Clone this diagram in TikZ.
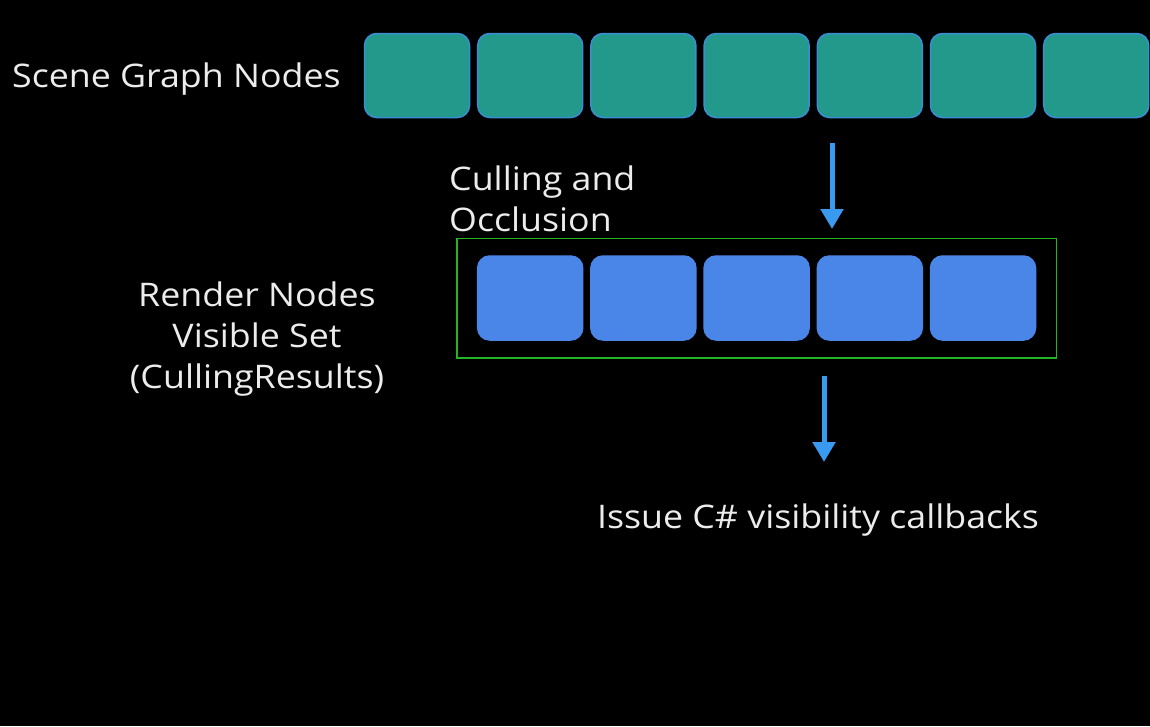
\documentclass[tikz,border=0pt]{standalone}
\usepackage{fontspec}
\setmainfont{Open Sans}
\newfontfamily\labelfont[FakeStretch=1.1]{Open Sans}
\usepackage{xcolor}
\usetikzlibrary{arrows.meta}
\usetikzlibrary{fit}

\definecolor{sceneteal}{HTML}{22998A}
\definecolor{tealedge}{HTML}{3A8ED4}
\definecolor{nodeblue}{HTML}{4A86E8}
\definecolor{arrowblue}{HTML}{3A9AF0}
\definecolor{framegreen}{HTML}{22B522}
\definecolor{labelgray}{HTML}{ECECEC}

\tikzset{
  scenebox/.style={draw=tealedge, line width=1.5pt, fill=sceneteal, rounded corners=12pt,
    minimum width=105pt, minimum height=84pt, inner sep=0pt},
  renderbox/.style={draw=nodeblue, line width=1.5pt, fill=nodeblue, rounded corners=12pt,
    minimum width=105pt, minimum height=84pt, inner sep=0pt},
  label/.style={text=labelgray, font=\labelfont\fontsize{32.5}{41}\selectfont, inner sep=0pt},
  flow/.style={arrowblue, line width=5pt, -{Triangle[width=22pt,length=20pt]}}
}

\begin{document}
\begin{tikzpicture}[x=1pt,y=-1pt]
\fill[black] (0,0) rectangle (1150,726);
\useasboundingbox (0,0) rectangle (1150,726);

% scene graph nodes
\foreach \i in {1,...,7}
  \node[scenebox] (s\i) at ({417+113.2*(\i-1)},75.5) {};

% visible set
\foreach \i in {2,...,6}
  \node[renderbox] (r\i) at ({417+113.2*(\i-1)},298) {};
\node[draw=framegreen, line width=1.5pt, inner xsep=20pt, inner ysep=17pt,
  fit=(r2) (r6)] (set) {};

\coordinate (a1) at (832,143);
\coordinate (b1) at (832,229);
\coordinate (a2) at (824,376);
\coordinate (b2) at (824,462);
\draw[flow] (a1) -- (b1);
\draw[flow] (a2) -- (b2);

\node[label, anchor=west] (sgn) at (12,79) {Scene Graph Nodes};
\node[label, anchor=west, align=left] (cull) at (449,199) {Culling and\\Occlusion};
\node[label, align=center] (rn) at (257,339) {Render Nodes\\Visible Set\\(CullingResults)};
\node[label] (cb) at (818,520) {Issue C\# visibility callbacks};
\end{tikzpicture}
\end{document}
